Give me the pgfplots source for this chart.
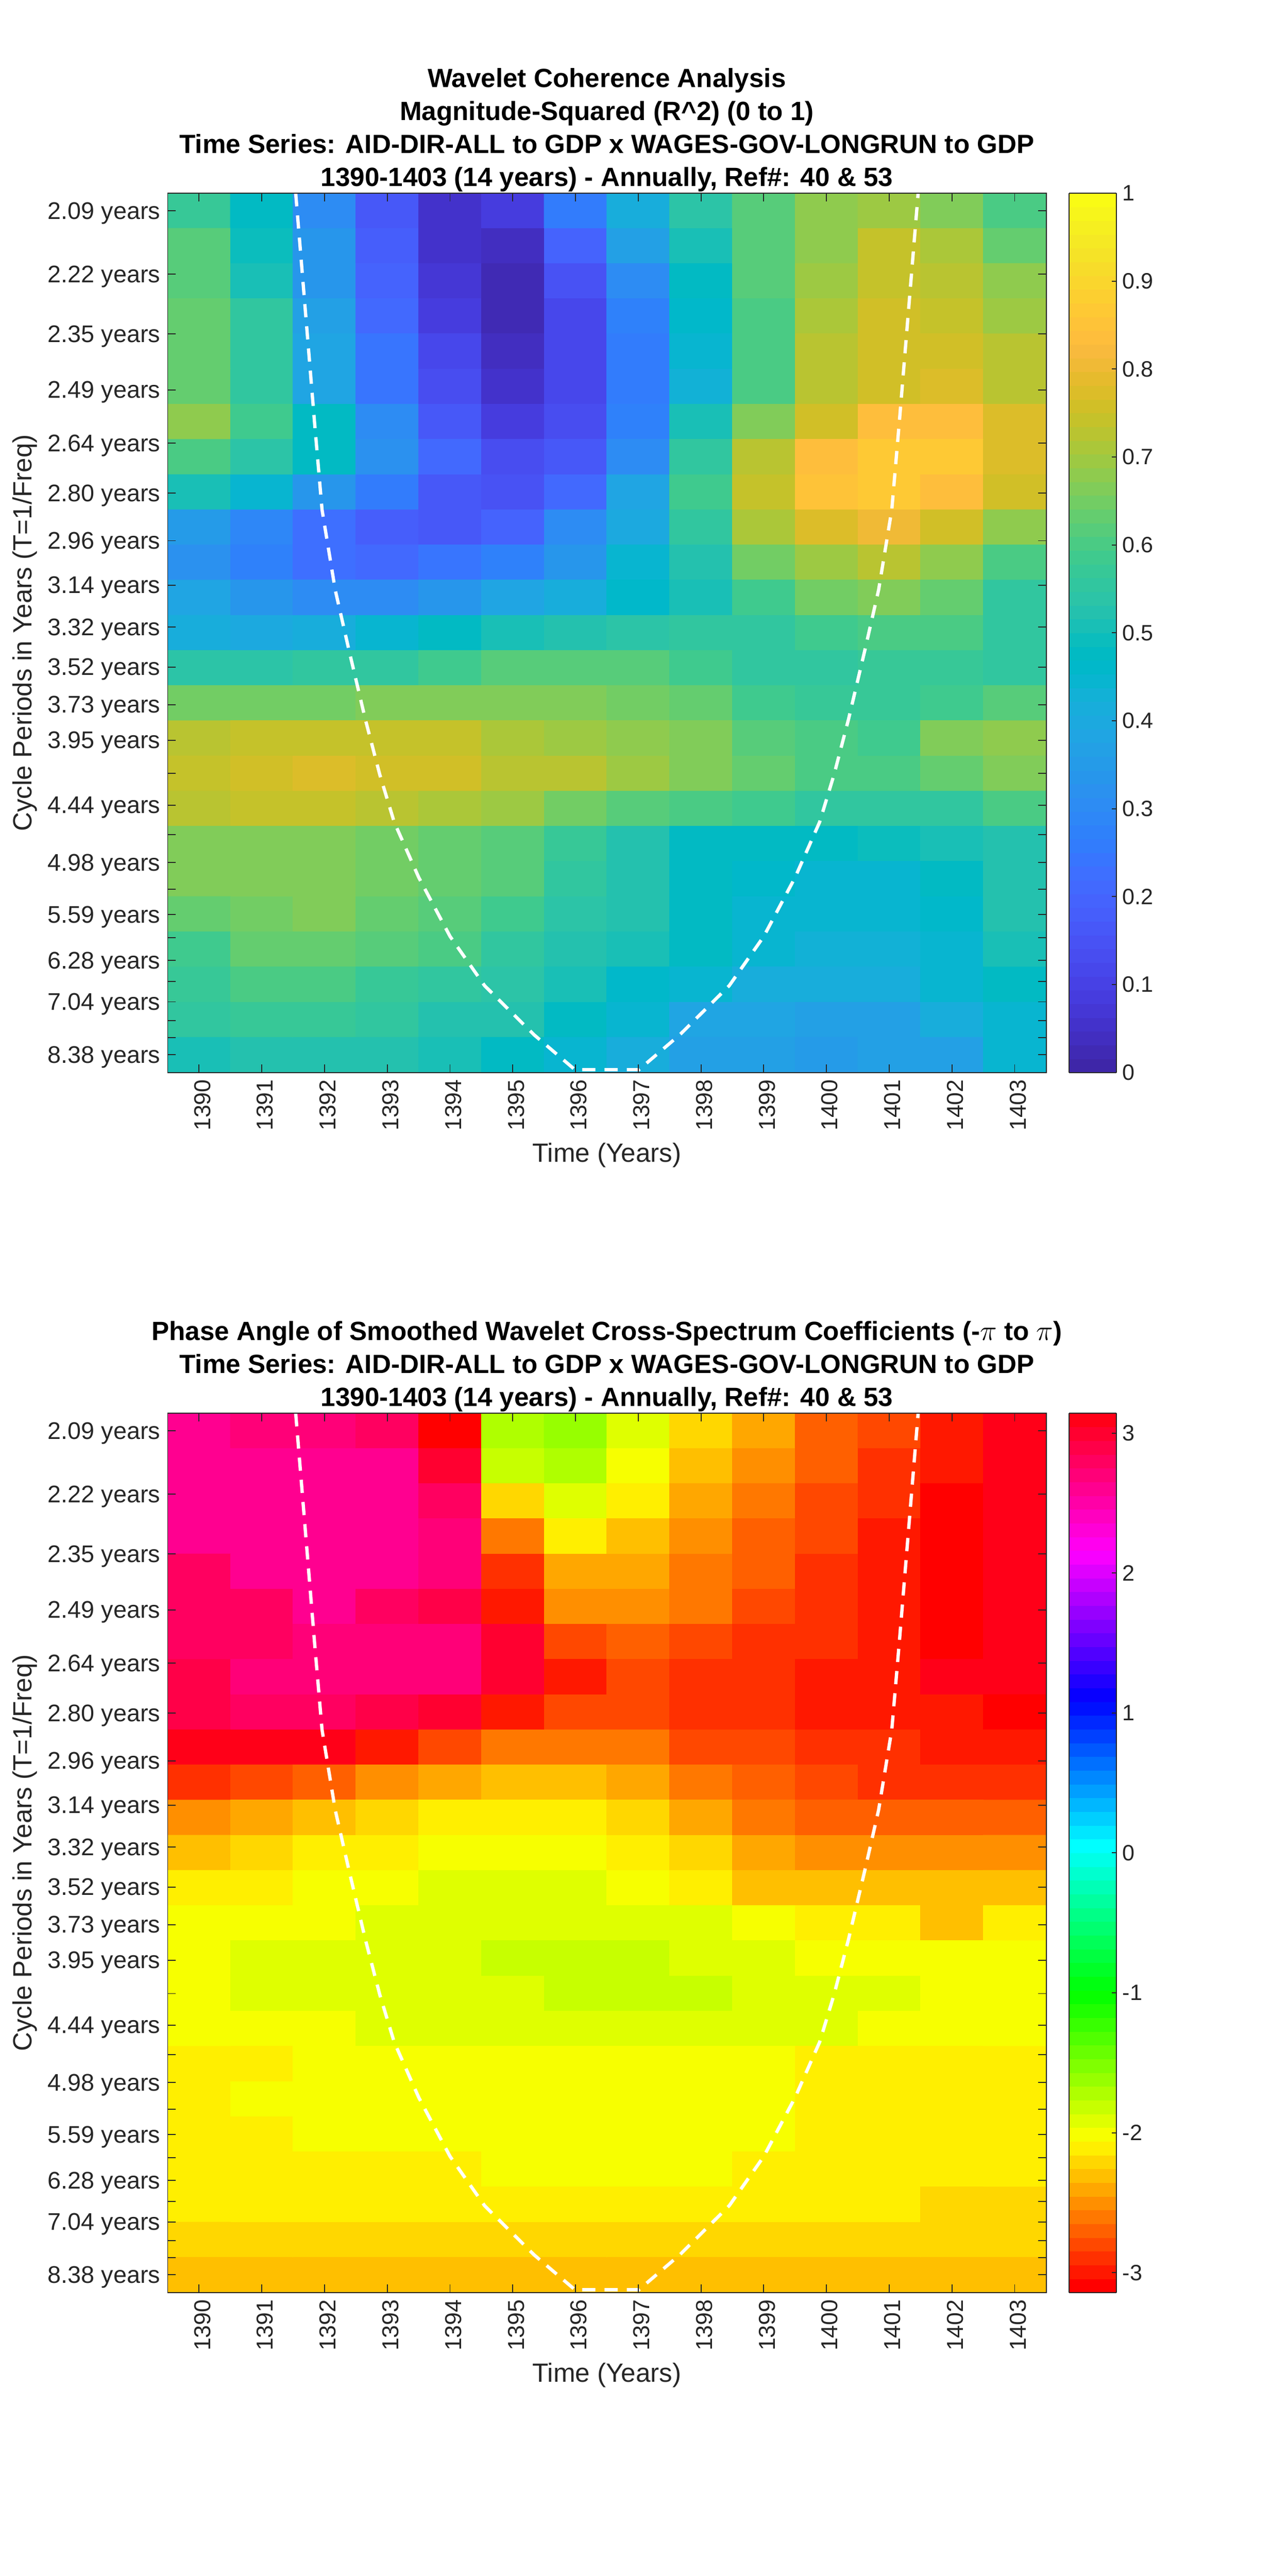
\documentclass[border=0pt]{standalone}
\usepackage{fontspec}
\setmainfont{Liberation Sans}
\usepackage{pgfplots}
\usepackage{pgfplotstable}
\pgfplotsset{compat=1.18}

\pgfplotsset{
  colormap={parula64}{
    rgb=(0.2422,0.1504,0.6603) rgb=(0.2504,0.1650,0.7076) rgb=(0.2578,0.1818,0.7511) rgb=(0.2647,0.1978,0.7952)
    rgb=(0.2706,0.2147,0.8364) rgb=(0.2751,0.2342,0.8710) rgb=(0.2783,0.2559,0.8991) rgb=(0.2803,0.2782,0.9221)
    rgb=(0.2813,0.3006,0.9414) rgb=(0.2810,0.3228,0.9579) rgb=(0.2795,0.3447,0.9717) rgb=(0.2760,0.3667,0.9829)
    rgb=(0.2699,0.3892,0.9906) rgb=(0.2602,0.4123,0.9952) rgb=(0.2440,0.4358,0.9988) rgb=(0.2206,0.4603,0.9973)
    rgb=(0.1963,0.4847,0.9892) rgb=(0.1834,0.5074,0.9798) rgb=(0.1786,0.5289,0.9682) rgb=(0.1764,0.5499,0.9520)
    rgb=(0.1687,0.5703,0.9359) rgb=(0.1540,0.5902,0.9218) rgb=(0.1460,0.6091,0.9079) rgb=(0.1380,0.6276,0.8973)
    rgb=(0.1248,0.6459,0.8883) rgb=(0.1113,0.6635,0.8763) rgb=(0.0952,0.6798,0.8598) rgb=(0.0689,0.6948,0.8394)
    rgb=(0.0297,0.7082,0.8163) rgb=(0.0036,0.7203,0.7917) rgb=(0.0067,0.7312,0.7660) rgb=(0.0433,0.7411,0.7394)
    rgb=(0.0964,0.7500,0.7120) rgb=(0.1408,0.7584,0.6842) rgb=(0.1717,0.7670,0.6554) rgb=(0.1938,0.7758,0.6251)
    rgb=(0.2161,0.7843,0.5923) rgb=(0.2470,0.7918,0.5567) rgb=(0.2906,0.7973,0.5188) rgb=(0.3406,0.8008,0.4789)
    rgb=(0.3909,0.8029,0.4354) rgb=(0.4456,0.8024,0.3909) rgb=(0.5044,0.7993,0.3480) rgb=(0.5616,0.7942,0.3045)
    rgb=(0.6174,0.7876,0.2612) rgb=(0.6720,0.7793,0.2227) rgb=(0.7242,0.7698,0.1910) rgb=(0.7738,0.7598,0.1646)
    rgb=(0.8203,0.7498,0.1535) rgb=(0.8634,0.7406,0.1596) rgb=(0.9035,0.7330,0.1774) rgb=(0.9393,0.7288,0.2100)
    rgb=(0.9728,0.7298,0.2394) rgb=(0.9956,0.7434,0.2371) rgb=(0.9970,0.7659,0.2199) rgb=(0.9952,0.7893,0.2028)
    rgb=(0.9892,0.8136,0.1885) rgb=(0.9786,0.8386,0.1766) rgb=(0.9676,0.8639,0.1643) rgb=(0.9610,0.8890,0.1537)
    rgb=(0.9597,0.9135,0.1423) rgb=(0.9628,0.9373,0.1265) rgb=(0.9691,0.9606,0.1064) rgb=(0.9769,0.9839,0.0805)
  },
  colormap={hsvbase}{
    rgb(0pt)=(1,0,0) rgb(16pt)=(1,1,0) rgb(32pt)=(0,1,0) rgb(48pt)=(0,1,1)
    rgb(64pt)=(0,0,1) rgb(80pt)=(1,0,1) rgb(94.5pt)=(1,0,0.094)
  },
  colormap={hsv64}{samples of colormap=(64 of hsvbase)},
}

% magnitude-squared coherence, one line per period row, 1390 to 1403
\pgfplotstableread[row sep=\\,header=false]{
0.57\\0.47\\0.30\\0.17\\0.05\\0.09\\0.25\\0.42\\0.54\\0.62\\0.68\\0.69\\0.67\\0.60\\
0.61\\0.49\\0.33\\0.18\\0.05\\0.04\\0.20\\0.36\\0.51\\0.62\\0.68\\0.74\\0.71\\0.64\\
0.61\\0.51\\0.34\\0.20\\0.07\\0.03\\0.15\\0.31\\0.48\\0.61\\0.70\\0.74\\0.73\\0.68\\
0.64\\0.55\\0.37\\0.21\\0.09\\0.03\\0.12\\0.28\\0.46\\0.60\\0.71\\0.75\\0.74\\0.70\\
0.64\\0.55\\0.38\\0.24\\0.11\\0.04\\0.11\\0.26\\0.45\\0.60\\0.72\\0.75\\0.75\\0.73\\
0.64\\0.55\\0.39\\0.24\\0.13\\0.05\\0.12\\0.25\\0.43\\0.60\\0.72\\0.76\\0.77\\0.73\\
0.68\\0.58\\0.47\\0.30\\0.16\\0.09\\0.13\\0.27\\0.50\\0.67\\0.76\\0.83\\0.83\\0.78\\
0.60\\0.54\\0.47\\0.32\\0.21\\0.13\\0.17\\0.31\\0.55\\0.73\\0.84\\0.87\\0.86\\0.78\\
0.50\\0.44\\0.33\\0.25\\0.16\\0.15\\0.21\\0.38\\0.58\\0.74\\0.85\\0.87\\0.84\\0.76\\
0.35\\0.29\\0.23\\0.18\\0.16\\0.20\\0.30\\0.40\\0.55\\0.71\\0.78\\0.81\\0.76\\0.68\\
0.32\\0.27\\0.22\\0.21\\0.24\\0.27\\0.33\\0.44\\0.53\\0.65\\0.70\\0.73\\0.68\\0.60\\
0.38\\0.33\\0.31\\0.31\\0.34\\0.39\\0.42\\0.46\\0.51\\0.58\\0.65\\0.66\\0.64\\0.56\\
0.42\\0.40\\0.41\\0.45\\0.47\\0.51\\0.53\\0.54\\0.55\\0.56\\0.58\\0.60\\0.60\\0.55\\
0.54\\0.54\\0.56\\0.56\\0.59\\0.61\\0.61\\0.61\\0.58\\0.55\\0.55\\0.57\\0.57\\0.56\\
0.65\\0.65\\0.65\\0.67\\0.67\\0.67\\0.67\\0.65\\0.63\\0.58\\0.57\\0.57\\0.59\\0.62\\
0.72\\0.74\\0.74\\0.74\\0.74\\0.71\\0.70\\0.68\\0.66\\0.62\\0.60\\0.59\\0.66\\0.68\\
0.74\\0.75\\0.77\\0.75\\0.75\\0.73\\0.73\\0.69\\0.66\\0.63\\0.60\\0.60\\0.64\\0.67\\
0.73\\0.74\\0.74\\0.72\\0.71\\0.70\\0.65\\0.62\\0.60\\0.58\\0.56\\0.55\\0.56\\0.60\\
0.66\\0.67\\0.67\\0.65\\0.64\\0.61\\0.57\\0.53\\0.47\\0.47\\0.47\\0.49\\0.50\\0.53\\
0.66\\0.67\\0.67\\0.65\\0.63\\0.61\\0.56\\0.53\\0.47\\0.46\\0.45\\0.45\\0.48\\0.53\\
0.63\\0.65\\0.66\\0.63\\0.61\\0.58\\0.54\\0.52\\0.47\\0.45\\0.44\\0.44\\0.46\\0.52\\
0.59\\0.63\\0.64\\0.62\\0.60\\0.55\\0.52\\0.50\\0.47\\0.44\\0.43\\0.43\\0.44\\0.50\\
0.57\\0.60\\0.60\\0.57\\0.56\\0.54\\0.50\\0.46\\0.44\\0.42\\0.42\\0.42\\0.44\\0.47\\
0.56\\0.57\\0.57\\0.55\\0.53\\0.52\\0.47\\0.44\\0.38\\0.38\\0.37\\0.37\\0.42\\0.45\\
0.51\\0.52\\0.53\\0.53\\0.51\\0.48\\0.45\\0.42\\0.37\\0.36\\0.35\\0.36\\0.37\\0.44\\
}\cohtable

% phase angle in radians, same layout
\pgfplotstableread[row sep=\\,header=false]{
2.58\\2.68\\2.70\\2.83\\-3.09\\-1.71\\-1.59\\-1.92\\-2.22\\-2.39\\-2.66\\-2.81\\-3.00\\3.10\\
2.58\\2.58\\2.58\\2.58\\2.95\\-1.82\\-1.70\\-2.01\\-2.29\\-2.48\\-2.66\\-2.93\\-3.00\\3.12\\
2.58\\2.58\\2.58\\2.58\\2.84\\-2.22\\-1.94\\-2.11\\-2.39\\-2.57\\-2.76\\-2.90\\-3.09\\3.12\\
2.58\\2.58\\2.58\\2.58\\2.67\\-2.57\\-2.11\\-2.31\\-2.50\\-2.74\\-2.78\\-2.99\\-3.09\\3.12\\
2.75\\2.58\\2.58\\2.58\\2.70\\-2.88\\-2.39\\-2.39\\-2.58\\-2.67\\-2.88\\-2.97\\-3.09\\3.12\\
2.79\\2.79\\2.63\\2.75\\2.88\\-2.99\\-2.48\\-2.48\\-2.57\\-2.76\\-2.86\\-2.97\\-3.09\\3.12\\
2.77\\2.77\\2.67\\2.67\\2.67\\3.02\\-2.76\\-2.67\\-2.78\\-2.88\\-2.88\\-2.97\\-3.09\\3.12\\
2.88\\2.70\\2.70\\2.70\\2.70\\3.00\\-3.02\\-2.79\\-2.88\\-2.88\\-2.99\\-2.99\\3.13\\3.07\\
2.93\\2.84\\2.84\\2.93\\2.98\\-3.00\\-2.79\\-2.79\\-2.86\\-2.86\\-2.99\\-2.99\\-3.00\\-3.09\\
3.10\\3.10\\3.10\\-3.04\\-2.79\\-2.62\\-2.62\\-2.62\\-2.76\\-2.79\\-2.88\\-2.88\\-2.97\\-2.97\\
-2.88\\-2.78\\-2.67\\-2.48\\-2.37\\-2.29\\-2.29\\-2.37\\-2.60\\-2.67\\-2.78\\-2.88\\-2.88\\-2.88\\
-2.48\\-2.39\\-2.29\\-2.20\\-2.10\\-2.10\\-2.10\\-2.20\\-2.39\\-2.58\\-2.69\\-2.69\\-2.69\\-2.69\\
-2.29\\-2.20\\-2.10\\-2.10\\-2.01\\-2.01\\-2.01\\-2.10\\-2.20\\-2.39\\-2.48\\-2.48\\-2.48\\-2.48\\
-2.13\\-2.13\\-2.04\\-2.04\\-1.94\\-1.94\\-1.94\\-2.04\\-2.13\\-2.29\\-2.31\\-2.31\\-2.31\\-2.31\\
-2.01\\-2.01\\-2.01\\-1.94\\-1.94\\-1.94\\-1.94\\-1.94\\-1.94\\-2.01\\-2.11\\-2.11\\-2.27\\-2.13\\
-2.01\\-1.92\\-1.92\\-1.92\\-1.92\\-1.82\\-1.82\\-1.82\\-1.92\\-1.92\\-2.03\\-2.03\\-2.03\\-2.03\\
-2.01\\-1.92\\-1.92\\-1.92\\-1.92\\-1.92\\-1.82\\-1.82\\-1.82\\-1.92\\-1.92\\-1.92\\-2.03\\-2.03\\
-2.01\\-2.01\\-2.01\\-1.92\\-1.92\\-1.92\\-1.92\\-1.92\\-1.92\\-1.92\\-1.92\\-2.03\\-2.03\\-2.03\\
-2.11\\-2.11\\-2.03\\-2.03\\-2.03\\-2.03\\-2.03\\-2.03\\-2.03\\-2.03\\-2.11\\-2.11\\-2.11\\-2.11\\
-2.11\\-2.01\\-2.01\\-2.01\\-2.01\\-2.01\\-2.01\\-2.01\\-2.01\\-2.01\\-2.11\\-2.11\\-2.11\\-2.11\\
-2.11\\-2.11\\-2.01\\-2.01\\-2.01\\-2.01\\-2.01\\-2.01\\-2.01\\-2.01\\-2.11\\-2.11\\-2.11\\-2.11\\
-2.11\\-2.11\\-2.11\\-2.11\\-2.11\\-2.01\\-2.01\\-2.01\\-2.01\\-2.11\\-2.11\\-2.11\\-2.11\\-2.11\\
-2.11\\-2.11\\-2.11\\-2.11\\-2.11\\-2.11\\-2.11\\-2.11\\-2.11\\-2.11\\-2.11\\-2.11\\-2.20\\-2.20\\
-2.20\\-2.20\\-2.20\\-2.20\\-2.20\\-2.20\\-2.20\\-2.20\\-2.20\\-2.20\\-2.20\\-2.20\\-2.20\\-2.20\\
-2.29\\-2.29\\-2.29\\-2.29\\-2.29\\-2.29\\-2.29\\-2.29\\-2.29\\-2.29\\-2.29\\-2.29\\-2.29\\-2.29\\
}\phasetable

% cone of influence, in year and row units
\pgfplotstableread{
x y
1391.54 0
1391.84 6.51
1391.96 9.00
1392.17 11.28
1392.39 13.00
1392.65 14.96
1392.88 16.53
1393.11 17.88
1393.50 19.45
1394.00 21.13
1394.55 22.53
1395.34 23.93
1395.99 24.92
1397.01 24.92
1397.66 23.93
1398.45 22.53
1399.00 21.13
1399.50 19.45
1399.89 17.88
1400.12 16.53
1400.35 14.96
1400.61 13.00
1400.83 11.28
1401.04 9.00
1401.16 6.51
1401.46 0
}\coitable

\pgfkeys{/pgf/number format/assume math mode=true}

\pgfplotsset{
  wavelet/.style={
    scale only axis, width=533pt, height=533.5pt,
    anchor=south west,
    axis on top,
    xmin=1389.5, xmax=1403.5, ymin=0, ymax=25, y dir=reverse,
    xtick={1390,...,1403},
    ytick={0.5,2.30,4.0,5.59,7.10,8.53,9.88,11.14,12.33,13.47,14.54,15.55,16.50,17.40,18.24,19.03,19.79,20.51,21.17,21.81,22.41,22.99,23.52,24.01,24.49},
    yticklabels={2.09 years,2.22 years,2.35 years,2.49 years,2.64 years,2.80 years,2.96 years,3.14 years,3.32 years,3.52 years,3.73 years,3.95 years,,4.44 years,,4.98 years,,5.59 years,,6.28 years,,7.04 years,,,8.38 years},
    tick align=inside, major tick length=5pt,
    xtick pos=both, ytick pos=both,
    axis line style={draw=black!85, line width=0.6pt},
    tick style={draw=black!85, line width=0.6pt},
    tick label style={font=\fontsize{14}{16}\selectfont, text=black!85},
    yticklabel style={font=\fontsize{14.6}{16}\selectfont, yshift=-1.5pt, xshift=-1pt},
    xticklabel style={rotate=90, anchor=east, /pgf/number format/1000 sep={}, yshift=-2pt, xshift=-0.7pt},
    xlabel={Time (Years)},
    ylabel={Cycle Periods in Years (T=1/Freq)},
    label style={font=\fontsize{16}{18}\selectfont, text=black!85},
    xlabel style={at={(axis description cs:0.5,-0.0942)}, anchor=center},
    ylabel style={at={(axis description cs:-0.1628,0.5)}, anchor=center, rotate=0},
    title style={at={(axis description cs:0.5,1)}, anchor=south, align=center, yshift=-8.5pt,
      font=\fontsize{16}{20}\selectfont\bfseries},
    colormap access=piecewise constant,
    colorbar sampled,
    colorbar style={
      scale only axis, width=28.75pt, height=533.5pt,
      at={(1.0263,1)}, anchor=north west,
      samples=65,
      axis line style={draw=black!85, line width=0.6pt},
      tick style={draw=black!85, line width=0.6pt},
      tick align=inside, major tick length=3pt,
      ytick pos=right,
      yticklabel pos=right,
      tick label style={font=\fontsize{13.5}{15}\selectfont, text=black!85},
      /pgf/number format/assume math mode=true,
    },
  },
  coi/.style={white, line width=2pt, dash pattern=on 8pt off 5.5pt},
}

\begin{document}
\begin{tikzpicture}
\path[use as bounding box] (0,0) rectangle (781.25pt,1563pt);

\begin{axis}[
  wavelet,
  at={(101.75pt,912.25pt)},
  colormap name=parula64,
  point meta min=0, point meta max=1,
  colorbar style={ytick={0,0.1,...,1}, yticklabels={0,0.1,0.2,0.3,0.4,0.5,0.6,0.7,0.8,0.9,1}},
  title={Wavelet Coherence Analysis\\Magnitude-Squared (R\textasciicircum 2) (0 to 1)\\Time Series: AID-DIR-ALL to GDP x WAGES-GOV-LONGRUN to GDP\\1390-1403 (14 years) - Annually, Ref\#: 40 \& 53},
]
\addplot[matrix plot*, mesh/cols=14, point meta=explicit]
  table[x index=0, y index=0, meta index=0, x expr={1390+mod(\coordindex,14)}, y expr={floor((\coordindex+0.5)/14)+0.5}] {\cohtable};
\addplot[coi] table[x=x, y=y] {\coitable};
\end{axis}

\begin{axis}[
  wavelet,
  at={(101.75pt,172pt)},
  colormap name=hsv64,
  point meta min=-3.1416, point meta max=3.1416,
  colorbar style={ytick={-3,-2,-1,0,1,2,3}, yticklabels={-3,-2,-1,0,1,2,3}},
  title={Phase Angle of Smoothed Wavelet Cross-Spectrum Coefficients (-$\pi$ to $\pi$)\\Time Series: AID-DIR-ALL to GDP x WAGES-GOV-LONGRUN to GDP\\1390-1403 (14 years) - Annually, Ref\#: 40 \& 53},
]
\addplot[matrix plot*, mesh/cols=14, point meta=explicit]
  table[x index=0, y index=0, meta index=0, x expr={1390+mod(\coordindex,14)}, y expr={floor((\coordindex+0.5)/14)+0.5}] {\phasetable};
\addplot[coi] table[x=x, y=y] {\coitable};
\end{axis}
\end{tikzpicture}
\end{document}
